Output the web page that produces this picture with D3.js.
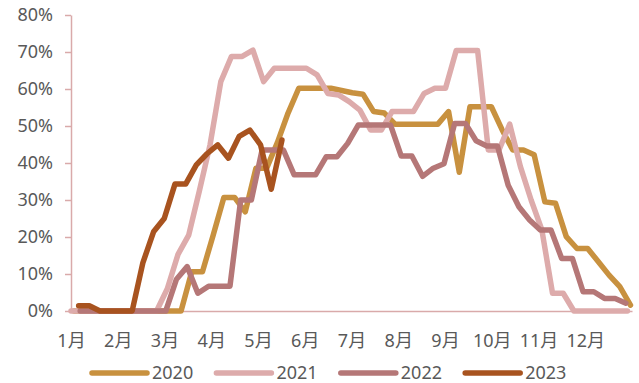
<!DOCTYPE html>
<html>
<head>
<meta charset="utf-8">
<script src="https://cdn.jsdelivr.net/npm/d3@7/dist/d3.min.js"></script>
<style>
  html, body { margin: 0; padding: 0; background: #ffffff; }
  svg { display: block; }
  text { font-family: "Noto Sans", "Noto Sans CJK SC", sans-serif; fill: #595959; }
</style>
</head>
<body>
<svg id="chart" width="639" height="383"></svg>
<script>
// Month labels along the horizontal axis
const months = ["1月", "2月", "3月", "4月", "5月", "6月", "7月", "8月", "9月", "10月", "11月", "12月"];

// Vertical axis ticks (percent)
const yTicks = [0, 10, 20, 30, 40, 50, 60, 70, 80];

// Series names and the date of each series' first weekly reading
const years = ["2020", "2021", "2022", "2023"];
const firstDates = ["2020-01-03", "2021-01-01", "2022-01-07", "2023-01-06"];

// Weekly readings, percent
const values2020 = [0, 0, 0, 0, 0, 0, 0, 0, 0, 0, 0, 10.6, 10.6, 20.5, 30.7, 30.7, 26.8, 38.6, 38.6, 45.5,
  53.5, 60.2, 60.2, 60.2, 60.2, 59.6, 59, 58.6, 53.9, 53.5, 50.5, 50.5, 50.5, 50.5, 50.5, 53.9, 37.5, 55.2,
  55.2, 55.2, 49, 43.5, 43.5, 42.2, 29.5, 29.1, 20.1, 16.9, 16.9, 13.3, 9.7, 6.6, 1.6];
const values2021 = [0, 0, 0, 0, 0, 0, 0, 0, 0, 6, 15.3, 20.5, 32.5, 45, 62, 68.8, 68.8, 70.5, 62, 65.6,
  65.6, 65.6, 65.6, 63.8, 58.8, 58.4, 56.6, 54.3, 48.9, 48.9, 53.9, 53.9, 53.9, 58.8, 60.2, 60.2, 70.4, 70.4,
  70.4, 43.5, 43.5, 50.5, 39, 30, 22, 4.8, 4.8, 0, 0, 0, 0, 0, 0];
const values2022 = [0, 0, 0, 0, 0, 0, 0, 0, 0, 8.6, 12, 4.8, 6.7, 6.7, 6.7, 30, 30, 43.5, 43.5, 43.5,
  36.8, 36.8, 36.8, 41.7, 41.7, 45.3, 50.3, 50.3, 50.3, 50.3, 41.9, 41.9, 36.4, 38.6, 39.8, 50.7, 50.7, 46,
  44.6, 44.6, 34, 28.2, 24.6, 21.9, 21.9, 14.2, 14.2, 5.2, 5.2, 3.4, 3.4, 2.1];
const values2023 = [1.4, 1.4, 0, 0, 0, 0, 13, 21.4, 25, 34.3, 34.3, 39.5, 42.5, 44.9, 41.3, 47.2, 48.9,
  44.9, 32.9, 46.2];

const seriesValues = [values2020, values2021, values2022, values2023];
const seriesColors = ["#C8913F", "#DDABAB", "#B57777", "#A8531F"];
const axisColor = "#D9AAAA";

const svg = d3.select("#chart");
svg.append("rect").attr("width", 639).attr("height", 383).attr("fill", "#ffffff");

// Day-of-year scale shared by every year
const x = d3.scaleLinear().domain([0, 367]).range([71, 632]);
const y = d3.scaleLinear().domain([0, 80]).range([311, 15]);

const parse = d3.timeParse("%Y-%m-%d");
const series = years.map((name, k) => {
  const start = parse(firstDates[k]);
  const startDay = d3.timeDay.count(d3.timeYear(start), start);
  return {
    name,
    color: seriesColors[k],
    points: seriesValues[k].map((v, i) => ({ day: startDay + 7 * i, v }))
  };
});

// Y axis
const yAxis = svg.append("g")
  .attr("transform", `translate(${x(0)},0)`)
  .call(d3.axisLeft(y).tickValues(yTicks).tickFormat(d => d + "%").tickSize(6).tickSizeOuter(0).tickPadding(12));
yAxis.select(".domain").attr("stroke", axisColor).attr("stroke-width", 1.5);
yAxis.selectAll(".tick line").attr("stroke", axisColor).attr("stroke-width", 1.5);
yAxis.selectAll(".tick text").attr("font-size", 18).style("fill", "#595959");

// X axis
const xAxis = svg.append("g")
  .attr("transform", `translate(0,${y(0)})`)
  .call(d3.axisBottom(x).tickValues(months.map((m, i) => i * 367 / 12))
    .tickFormat((d, i) => months[i]).tickSize(0).tickSizeOuter(0).tickPadding(23));
xAxis.select(".domain").attr("stroke", axisColor).attr("stroke-width", 1.5);
xAxis.selectAll(".tick text").attr("font-size", 18).style("fill", "#595959");

// Series lines
const line = d3.line().x(d => x(d.day)).y(d => y(d.v));
svg.append("g").selectAll("path")
  .data(series)
  .join("path")
  .attr("d", d => line(d.points))
  .attr("fill", "none")
  .attr("stroke", d => d.color)
  .attr("stroke-width", 5.5)
  .attr("stroke-linejoin", "round")
  .attr("stroke-linecap", "round");

// Legend
const legend = svg.append("g").attr("transform", "translate(92,373)");
const item = legend.selectAll("g")
  .data(series)
  .join("g")
  .attr("transform", (d, i) => `translate(${i * 124.4},0)`);
item.append("line")
  .attr("x1", 0).attr("x2", 55)
  .attr("stroke", d => d.color)
  .attr("stroke-width", 5.5)
  .attr("stroke-linecap", "round");
item.append("text")
  .attr("x", 60)
  .attr("dy", "0.36em")
  .attr("font-size", 18)
  .text(d => d.name);
</script>
</body>
</html>
